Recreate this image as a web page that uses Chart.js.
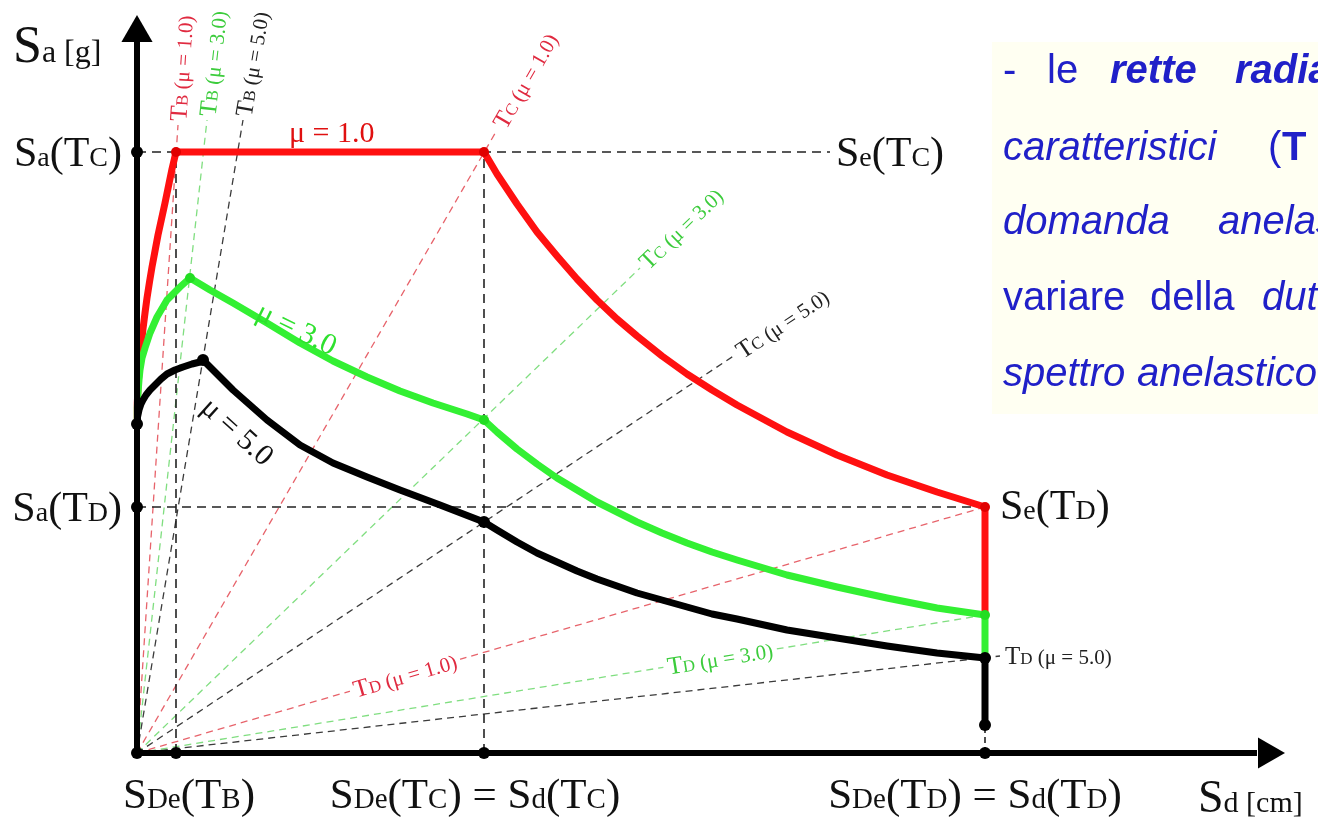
<!DOCTYPE html>
<html><head><meta charset="utf-8">
<script src="https://cdn.jsdelivr.net/npm/chart.js@4"></script>
<style>html,body{margin:0;padding:0;background:#fff;overflow:hidden}canvas{display:block}</style>
</head><body>
<canvas id="c" width="1318" height="817"></canvas>
<script>
// ---------- DATA (Sd horizontal, Sa vertical, arbitrary units) ----------
const sdMu1 = [0, 0.3, 1, 2, 3, 4.5, 6, 8, 10, 12.5, 15, 18, 21, 24.5, 28, 31.5, 35, 39,
               347, 360, 380, 400, 420, 440, 460, 480, 500, 525, 550, 575, 600, 650, 700, 750, 800, 848, 848];
const saMu1 = [329, 350, 366, 382, 394, 410, 424, 440, 455, 471, 486, 502, 518, 534, 550, 567, 584, 601,
               601, 579, 549, 521, 497, 474, 453, 434, 417, 397, 379, 363, 348, 321, 298, 278, 261, 246, 138];

const sdMu3 = [0, 0.3, 1, 2, 3, 5, 8, 13, 20, 30, 43, 53, 73, 96, 130, 163, 196, 230, 263, 296, 330, 347,
               360, 380, 400, 420, 440, 460, 480, 500, 525, 550, 575, 600, 650, 700, 750, 800, 848, 848];
const saMu3 = [329, 345, 360, 373, 383, 395, 405, 420, 436, 453, 466, 475, 463, 450, 430, 410, 392, 376, 362, 350, 339, 333,
               321, 304, 289, 275, 263, 251, 241, 231, 220, 210, 201, 193, 178, 166, 155, 145, 138, 95];

const sdMu5 = [0, 0.5, 2, 4, 6, 9, 13, 18, 24, 30, 38, 46, 55, 63, 66, 96, 130, 163, 196, 230, 263, 303, 347,
               360, 380, 400, 420, 440, 460, 480, 500, 525, 550, 575, 600, 650, 700, 750, 800, 848, 848];
const saMu5 = [329, 336, 343, 349, 353, 358, 363, 368, 374, 379, 383, 386, 389, 391, 393, 363, 333, 308, 290, 276, 263, 248, 231,
               223, 211, 200, 191, 182, 174, 167, 160, 153, 146, 139, 134, 123, 115, 107, 100, 95, 28];

// characteristic values
const sdTB = 39, sdTC = 347, sdTD = 848;
const saTC = 601, saTD = 246, sa0 = 329, saEndMu5 = 28;
const saGuideEnd = 693; // end of dashed Sa(Tc) guide

// radial lines (periods) : end points
const rayMu    = ['1.0', '3.0', '5.0', '1.0', '3.0', '5.0', '1.0', '3.0', '5.0'];
const rayPer   = ['B', 'B', 'B', 'C', 'C', 'C', 'D', 'D', 'D'];
const raySdEnd = [41, 70, 106, 360, 503, 598, 848, 848, 863];
const raySaEnd = [628, 633, 633, 623, 485, 398, 246, 138, 97];

// corner points
const cornerSd1 = [39, 347, 848], cornerSa1 = [601, 601, 246];
const cornerSd3 = [53, 347, 848], cornerSa3 = [475, 333, 138];
const cornerSd5 = [66, 347, 848], cornerSa5 = [393, 231, 95];
const keySd = [0, 0, 0, 0, 39, 347, 848, 848];
const keySa = [601, 329, 246, 0, 0, 0, 0, 28];

// ---------- helpers ----------
const pts = (xs, ys) => xs.map((x, i) => ({x, y: ys[i]}));
const RED = '#ff1010', GREEN = '#33f033', BLACK = '#000';
const rayLine = ['rgba(225,60,70,0.8)', 'rgba(60,205,60,0.65)', 'rgba(25,25,25,0.85)'];
const rayText = ['#e02a40', '#3ccc3c', '#222'];
const muIdx = m => m === '1.0' ? 0 : m === '3.0' ? 1 : 2;
const SERIF = '"Liberation Serif","Times New Roman",serif';
const SANS = '"Liberation Sans",Arial,sans-serif';
const P = (t, z, o) => ({t, z, st: o && o.includes('i') ? 'italic ' : '', wt: o && o.includes('b') ? 'bold ' : ''});

function dashed(xs, ys, color, w, dash, order) {
  return {data: pts(xs, ys), showLine: true, borderColor: color, borderWidth: w, borderDash: dash,
          pointRadius: 0, fill: false, order: order, tension: 0};
}
function curve(xs, ys, color, order) {
  return {data: pts(xs, ys), showLine: true, borderColor: color, borderWidth: 7, pointRadius: 0,
          fill: false, order: order, tension: 0, borderJoinStyle: 'round', borderCapStyle: 'round'};
}
function dots(xs, ys, color, r, order) {
  return {data: pts(xs, ys), showLine: false, pointRadius: r, pointBackgroundColor: color,
          pointBorderWidth: 0, order: order};
}

const datasets = [];
raySdEnd.forEach((sd, i) => datasets.push(dashed([0, sd], [0, raySaEnd[i]], rayLine[muIdx(rayMu[i])], 1.3, [7, 5], 20)));
datasets.push(dashed([0, saGuideEnd], [saTC, saTC], '#222', 1.6, [9, 6], 15));
datasets.push(dashed([0, sdTD], [saTD, saTD], '#222', 1.6, [9, 6], 15));
datasets.push(dashed([sdTB, sdTB], [0, saTC], '#222', 1.6, [9, 6], 15));
datasets.push(dashed([sdTC, sdTC], [0, saTC], '#222', 1.6, [9, 6], 15));
datasets.push(dashed([sdTD, sdTD], [0, saEndMu5], '#222', 1.6, [6, 4], 15));
datasets.push(curve(sdMu1, saMu1, RED, 9));
datasets.push(curve(sdMu3, saMu3, GREEN, 8));
datasets.push(curve(sdMu5, saMu5, BLACK, 7));
datasets.push({data: pts([0, 0], [0, 715]), showLine: true, borderColor: '#000', borderWidth: 6, pointRadius: 0, order: 5});
datasets.push({data: pts([0, 1120], [0, 0]), showLine: true, borderColor: '#000', borderWidth: 6, pointRadius: 0, order: 5});
datasets.push({data: pts([0], [720]), showLine: false, pointStyle: 'triangle', pointRadius: 18, pointRotation: 0, pointBackgroundColor: '#000', pointBorderWidth: 0, order: 4});
datasets.push({data: pts([1130], [0]), showLine: false, pointStyle: 'triangle', pointRadius: 18, pointRotation: 90, pointBackgroundColor: '#000', pointBorderWidth: 0, order: 4});
datasets.push(dots(cornerSd1, cornerSa1, '#e00000', 5, 3));
datasets.push(dots(cornerSd3, cornerSa3, '#22dd22', 5, 3));
datasets.push(dots(cornerSd5, cornerSa5, '#000', 6, 3));
datasets.push(dots(keySd, keySa, '#000', 6, 2));

// ---------- text labels ----------
function partsFont(p, fam) { return p.st + p.wt + p.z + 'px ' + fam; }
function widthOf(ctx, parts, fam) { let w = 0; parts.forEach(p => { ctx.font = partsFont(p, fam); w += ctx.measureText(p.t).width; }); return w; }
function drawParts(ctx, parts, fam, color, x, y, align, rot, dy, bg) {
  ctx.save();
  ctx.translate(x, y); ctx.rotate(rot || 0);
  const w = widthOf(ctx, parts, fam);
  let cx = align === 'center' ? -w / 2 : align === 'right' ? -w : 0;
  dy = dy || 0;
  if (bg) { const h = Math.max(...parts.map(p => p.z)); ctx.fillStyle = bg; ctx.fillRect(cx - 4, dy - h * 0.75, w + 8, h * 0.95); }
  ctx.fillStyle = color; ctx.textBaseline = 'alphabetic';
  parts.forEach(p => { ctx.font = partsFont(p, fam); ctx.fillText(p.t, cx, dy); cx += ctx.measureText(p.t).width; });
  ctx.restore();
}
function lab(spec, B, s) { return spec.map(t => P(t[0], t[1] ? s : B)); }
const big = 42, sm = 28, bb = 43, bs = 29;
const SaTc = lab([['S'], ['a', 1], ['('], ['T'], ['C', 1], [')']], big, sm);
const SaTd = lab([['S'], ['a', 1], ['('], ['T'], ['D', 1], [')']], big, sm);
const SeTc = lab([['S'], ['e', 1], ['('], ['T'], ['C', 1], [')']], big, sm);
const SeTd = lab([['S'], ['e', 1], ['('], ['T'], ['D', 1], [')']], big, sm);
const SDeTb = lab([['S'], ['D', 1], ['e', 1], ['('], ['T'], ['B', 1], [')']], bb, bs);
const SDeTc = lab([['S'], ['D', 1], ['e', 1], ['('], ['T'], ['C', 1], [') = '], ['S'], ['d', 1], ['('], ['T'], ['C', 1], [')']], bb, bs);
const SDeTd = lab([['S'], ['D', 1], ['e', 1], ['('], ['T'], ['D', 1], [') = '], ['S'], ['d', 1], ['('], ['T'], ['D', 1], [')']], bb, bs);

const textLabels = [
  {parts: [P('S', 52), P('a [g]', 32)], sd: -124, sa: 691, align: 'left', color: '#111'},
  {parts: SaTc, sd: -15, sa: 587, align: 'right', color: '#111'},
  {parts: SaTd, sd: -15, sa: 232, align: 'right', color: '#111'},
  {parts: SeTc, sd: 699, sa: 587, align: 'left', color: '#111'},
  {parts: SeTd, sd: 863, sa: 234, align: 'left', color: '#111'},
  {parts: SDeTb, sd: 52, sa: -55, align: 'center', color: '#111'},
  {parts: SDeTc, sd: 338, sa: -55, align: 'center', color: '#111'},
  {parts: SDeTd, sd: 838, sa: -55, align: 'center', color: '#111'},
  {parts: [P('S', 46), P('d [cm]', 30)], sd: 1061, sa: -59, align: 'left', color: '#111'},
  {parts: [P('μ = 1.0', 30)], sd: 152, sa: 611, align: 'left', color: '#e01010'},
  {parts: [P('μ = 3.0', 30)], sd: 160, sa: 425, align: 'center', color: '#2ee02e', rot: 26, dy: 10},
  {parts: [P('μ = 5.0', 30)], sd: 101, sa: 322, align: 'center', color: '#111', rot: 42, dy: 10}
];
const rayLabelAt = ['end', 'end', 'end', 'end', 'end', 'end', 268, 583, 'flat'];

const blueLines = [
  {y: 83,  words: [['-', 1003, ''], ['le', 1047, ''], ['rette', 1110, 'bi'], ['radiali', 1235, 'bi']]},
  {y: 160, words: [['caratteristici', 1003, 'i'], ['(', 1268, ''], ['T', 1282, 'b']]},
  {y: 234, words: [['domanda', 1003, 'i'], ['anelastica', 1218, 'i']]},
  {y: 310, words: [['variare', 1003, ''], ['della', 1150, ''], ['duttilità', 1262, 'i']]},
  {y: 386, words: [['spettro', 1003, 'i'], ['anelastico', 1137, 'i']]}
];

const textPlugin = {
  id: 'texts',
  beforeDatasetsDraw(chart) {
    const ctx = chart.ctx;
    ctx.save(); ctx.fillStyle = '#fffff2'; ctx.fillRect(992, 42, 326, 372); ctx.restore();
  },
  afterDatasetsDraw(chart) {
    const ctx = chart.ctx, xs = chart.scales.x, ys = chart.scales.y;
    const X = v => xs.getPixelForValue(v), Y = v => ys.getPixelForValue(v);
    raySdEnd.forEach((sd, i) => {
      const sa = raySaEnd[i];
      const px0 = X(0), py0 = Y(0), px1 = X(sd), py1 = Y(sa);
      const ang = Math.atan2(py1 - py0, px1 - px0);
      const parts = [P('T', 25), P(rayPer[i], 17), P(' (μ = ' + rayMu[i] + ')', 21)];
      const col = rayText[muIdx(rayMu[i])];
      const at = rayLabelAt[i];
      if (at === 'end') {
        const g = 4;
        drawParts(ctx, parts, SERIF, col, px1 + Math.cos(ang) * g, py1 + Math.sin(ang) * g, 'left', ang, 8);
      } else if (at === 'flat') {
        drawParts(ctx, parts, SERIF, col, px1 + 5, py1, 'left', 0, 8);
      } else {
        const s = at, a = sa / sd * s;
        drawParts(ctx, parts, SERIF, col, X(s), Y(a), 'center', ang, 8, '#ffffff');
      }
    });
    textLabels.forEach(l => drawParts(ctx, l.parts, SERIF, l.color, X(l.sd), Y(l.sa), l.align, (l.rot || 0) * Math.PI / 180, l.dy || 0));
    blueLines.forEach(line => line.words.forEach(w => {
      drawParts(ctx, [P(w[0], 40, w[2])], SANS, '#2020c8', w[1], line.y, 'left', 0, 0);
    }));
  }
};

new Chart(document.getElementById('c'), {
  type: 'scatter',
  data: {datasets},
  options: {
    responsive: false, animation: false, devicePixelRatio: 1,
    layout: {padding: 0, autoPadding: false},
    plugins: {legend: {display: false}, tooltip: {enabled: false}},
    scales: {
      x: {type: 'linear', min: -137, max: 1181, display: false},
      y: {type: 'linear', min: -64, max: 753, display: false}
    }
  },
  plugins: [textPlugin]
});
</script>
</body></html>
